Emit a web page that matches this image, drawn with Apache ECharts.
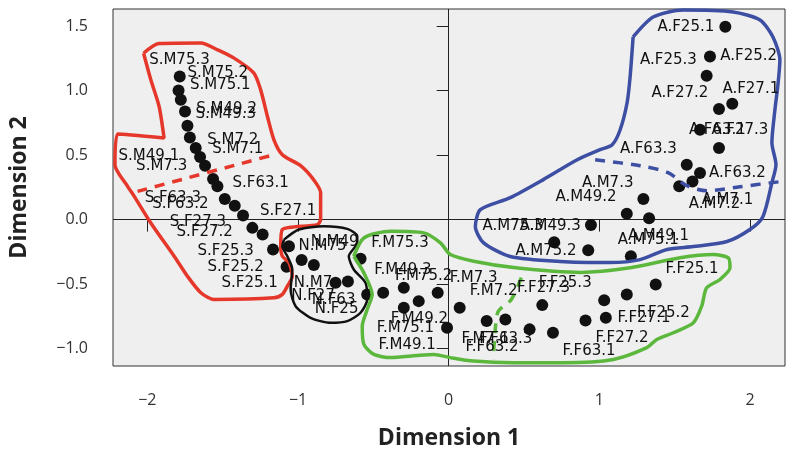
<!DOCTYPE html>
<html>
<head>
<meta charset="utf-8">
<script src="https://cdn.jsdelivr.net/npm/echarts@6/dist/echarts.min.js"></script>
<style>html,body{margin:0;padding:0;background:#fff}#c{width:800px;height:455px}</style>
</head>
<body>
<div id="c"></div>
<script>
// ---- tick values ----
const xTicks = [-2, -1, 0, 1, 2];
const yTicks = [-1, -0.5, 0, 0.5, 1, 1.5];

// ---- points (Dimension 1, Dimension 2) ----
const sPoints = [[-1.785,1.109],[-1.793,1.001],[-1.778,0.929],[-1.750,0.838],[-1.734,0.728],[-1.718,0.637],
  [-1.679,0.555],[-1.650,0.485],[-1.617,0.418],[-1.564,0.315],[-1.535,0.258],[-1.486,0.159],
  [-1.420,0.108],[-1.365,0.031],[-1.303,-0.064],[-1.235,-0.116],[-1.166,-0.232],[-1.076,-0.366]];
const nPoints = [[-1.060,-0.207],[-0.976,-0.313],[-0.895,-0.352],[-0.751,-0.490],[-0.669,-0.480],[-0.541,-0.580]];
const fPoints = [[-0.585,-0.304],[-0.435,-0.567],[-0.298,-0.529],[-0.199,-0.632],[-0.298,-0.683],[-0.073,-0.567],
  [-0.011,-0.838],[0.073,-0.683],[0.252,-0.787],[0.376,-0.774],[0.537,-0.851],[0.621,-0.663],
  [0.692,-0.877],[0.908,-0.782],[1.043,-0.761],[1.032,-0.625],[1.182,-0.580],[1.374,-0.503]];
const aPoints = [[1.836,1.496],[1.734,1.264],[1.712,1.115],[1.882,0.898],[1.794,0.857],[1.668,0.697],
  [1.794,0.555],[1.580,0.426],[1.668,0.361],[1.618,0.296],[1.530,0.258],[1.292,0.160],
  [1.182,0.046],[1.330,0.010],[0.944,-0.041],[0.700,-0.176],[0.926,-0.238],[1.209,-0.284]];

// ---- text labels (anchor = text centre) ----
const sLabels = [[-1.787,1.238,'S.M75.3'],[-1.533,1.135,'S.M75.2'],[-1.516,1.045,'S.M75.1'],
  [-1.474,0.857,'S.M49.2'],[-1.480,0.820,'S.M49.3'],[-1.433,0.619,'S.M7.2'],[-1.400,0.547,'S.M7.1'],
  [-1.990,0.495,'S.M49.1'],[-1.905,0.418,'S.M7.3'],[-1.248,0.284,'S.F63.1'],[-1.831,0.168,'S.F63.3'],
  [-1.781,0.124,'S.F63.2'],[-1.066,0.064,'S.F27.1'],[-1.665,-0.021,'S.F27.3'],[-1.619,-0.098,'S.F27.2'],
  [-1.480,-0.245,'S.F25.3'],[-1.414,-0.366,'S.F25.2'],[-1.321,-0.495,'S.F25.1']];
const nLabels = [[-0.757,-0.176,'N.M49'],[-0.837,-0.207,'N.M75'],[-0.900,-0.490,'N.M7'],
  [-0.900,-0.596,'N.F27'],[-0.764,-0.627,'N.F63'],[-0.744,-0.691,'N.F25']];
const fLabels = [[-0.323,-0.186,'F.M75.3'],[-0.304,-0.392,'F.M49.3'],[-0.166,-0.439,'F.M75.2'],
  [0.166,-0.457,'F.M7.3'],[0.298,-0.555,'F.M7.2'],[-0.194,-0.774,'F.M49.2'],[-0.287,-0.838,'F.M75.1'],
  [-0.276,-0.975,'F.M49.1'],[0.243,-0.929,'F.M7.1'],[0.379,-0.929,'F.F63.3'],[0.288,-0.985,'F.F63.2'],
  [0.773,-0.495,'F.F25.3'],[0.630,-0.529,'F.F27.3'],[1.615,-0.387,'F.F25.1'],[1.425,-0.722,'F.F25.2'],
  [1.296,-0.761,'F.F27.1'],[1.151,-0.916,'F.F27.2'],[0.932,-1.019,'F.F63.1']];
const aLabels = [[1.574,1.491,'A.F25.1'],[1.458,1.238,'A.F25.3'],[1.991,1.264,'A.F25.2'],
  [1.535,0.981,'A.F27.2'],[2.005,1.014,'A.F27.1'],[1.784,0.691,'A.F63.1'],[1.933,0.691,'A.F27.3'],
  [1.325,0.547,'A.F63.3'],[1.916,0.360,'A.F63.2'],[1.055,0.284,'A.M7.3'],[0.911,0.173,'A.M49.2'],
  [1.850,0.155,'A.M7.1'],[1.765,0.122,'A.M7.2'],[0.427,-0.052,'A.M75.3'],[0.674,-0.052,'A.M49.3'],
  [1.392,-0.129,'A.M49.1'],[1.325,-0.160,'A.M75.1'],[0.646,-0.245,'A.M75.2']];

// ---- hand-drawn group outlines ----
const redHull = [[-2.025,1.290],[-1.924,1.366],[-1.645,1.370],[-1.533,1.316],[-1.427,1.254],[-1.294,1.138],
  [-1.248,1.006],[-1.203,0.800],[-1.160,0.619],[-1.104,0.503],[-0.983,0.418],[-0.897,0.310],[-0.850,0.209],
  [-0.850,0.000],[-0.872,-0.039],[-1.104,-0.077],[-1.115,-0.207],[-1.104,-0.284],[-1.060,-0.335],
  [-1.038,-0.439],[-1.071,-0.516],[-1.104,-0.580],[-1.160,-0.606],[-1.557,-0.619],[-1.645,-0.567],
  [-1.734,-0.439],[-1.822,-0.284],[-1.977,-0.026],[-2.087,0.180],[-2.131,0.258],[-2.215,0.426],
  [-2.197,0.663],[-1.889,0.632],[-1.922,0.877],[-1.977,1.084],[-2.025,1.290]];
const blackHull = [[-1.093,-0.155],[-0.994,-0.077],[-0.828,-0.052],[-0.673,-0.072],[-0.607,-0.129],
  [-0.607,-0.180],[-0.663,-0.284],[-0.630,-0.387],[-0.552,-0.490],[-0.541,-0.619],[-0.585,-0.722],
  [-0.673,-0.787],[-0.784,-0.800],[-0.917,-0.761],[-1.016,-0.671],[-1.049,-0.542],[-1.038,-0.387],
  [-1.071,-0.284],[-1.104,-0.207],[-1.093,-0.155]];
const greenHull = [[-0.630,-0.284],[-0.563,-0.142],[-0.386,-0.091],[-0.166,-0.103],[-0.055,-0.180],
  [0.011,-0.271],[0.166,-0.323],[0.431,-0.372],[0.873,-0.410],[1.204,-0.374],[1.535,-0.296],
  [1.756,-0.271],[1.856,-0.296],[1.867,-0.374],[1.801,-0.464],[1.712,-0.529],[1.679,-0.671],
  [1.624,-0.800],[1.491,-0.877],[1.381,-0.929],[1.315,-0.993],[1.093,-1.084],[0.762,-1.109],
  [0.431,-1.109],[0.166,-1.097],[0.011,-1.070],[-0.099,-1.045],[-0.209,-1.053],[-0.386,-1.070],
  [-0.497,-1.045],[-0.563,-0.967],[-0.574,-0.826],[-0.541,-0.697],[-0.508,-0.580],[-0.563,-0.413],
  [-0.630,-0.284]];
const blueHull = [[1.224,1.416],[1.357,1.571],[1.555,1.625],[1.887,1.610],[2.066,1.548],[2.152,1.416],
  [2.198,1.238],[2.185,1.045],[2.165,0.851],[2.145,0.596],[2.172,0.426],[2.145,0.286],[2.085,0.023],
  [1.999,-0.077],[1.847,-0.170],[1.622,-0.209],[1.449,-0.232],[1.270,-0.310],[1.072,-0.333],
  [0.740,-0.325],[0.409,-0.286],[0.230,-0.178],[0.177,-0.054],[0.210,0.077],[0.409,0.170],
  [0.628,0.310],[0.853,0.464],[1.005,0.542],[1.085,0.580],[1.138,0.697],[1.184,0.906],[1.204,1.107],
  [1.224,1.416]];
const redDash = [[-2.065,0.219],[-1.170,0.500]];
const greenDash = [[0.482,-0.449],[0.416,-0.619],[0.329,-0.712],[0.309,-0.851],[0.296,-1.084]];
const blueDash = [[0.972,0.464],[1.270,0.418],[1.456,0.364],[1.581,0.263],[1.714,0.224],[1.933,0.255],[2.198,0.294]];

const RED = '#e5372a', BLUE = '#3d4fa2', GREEN = '#5cb83c', BLACK = '#111111';
const minus = v => (v < 0 ? '\u2212' + Math.abs(v) : String(v));

function hull(data, color, dashed, width) {
  return {
    type: 'line', data: data, showSymbol: false, symbol: 'none', smooth: dashed ? 0.3 : 0.25,
    lineStyle: { color: color, width: width || 3.5, type: dashed ? [10, 8] : 'solid', opacity: 1 },
    z: 4, silent: true, animation: false
  };
}
const allLabels = sLabels.concat(nLabels, fLabels, aLabels);

const chart = echarts.init(document.getElementById('c'), null, { renderer: 'canvas' });
chart.setOption({
  animation: false,
  backgroundColor: '#ffffff',
  grid: { left: 112, right: 15, top: 9, bottom: 88, show: true, backgroundColor: '#efeff0', borderColor: '#333', borderWidth: 1 },
  xAxis: {
    type: 'value', min: -2.228, max: 2.232,
    name: 'Dimension 1', nameLocation: 'middle', nameGap: 61,
    nameTextStyle: { fontFamily: 'Open Sans', fontWeight: 'bold', fontSize: 23, color: '#222' },
    axisLine: { show: false }, splitLine: { show: false },
    axisTick: { show: true, length: 12, lineStyle: { color: '#222' }, customValues: xTicks },
    axisLabel: { margin: 26, fontFamily: 'Open Sans', fontSize: 16, color: '#333', customValues: xTicks, formatter: v => minus(v) }
  },
  yAxis: {
    type: 'value', min: -1.135, max: 1.633,
    name: 'Dimension 2', nameLocation: 'middle', nameGap: 82,
    nameTextStyle: { fontFamily: 'Open Sans', fontWeight: 'bold', fontSize: 23, color: '#222' },
    axisLine: { show: false }, splitLine: { show: false },
    axisTick: { show: true, length: 12, lineStyle: { color: '#222' }, customValues: yTicks },
    axisLabel: { margin: 25, fontFamily: 'Open Sans', fontSize: 16, color: '#333', customValues: yTicks,
      formatter: v => (v < 0 ? '\u2212' + Math.abs(v).toFixed(1) : v.toFixed(1)) }
  },
  series: [
    {
      type: 'scatter', data: sPoints.concat(nPoints, fPoints, aPoints), symbolSize: 12,
      itemStyle: { color: BLACK, opacity: 1 }, z: 3, silent: true,
      markLine: { silent: true, symbol: 'none', label: { show: false },
        lineStyle: { color: '#222', width: 1, type: 'solid', opacity: 1 },
        data: [{ xAxis: 0 }, { yAxis: 0 }], z: 1 }
    },
    {
      type: 'scatter', data: allLabels, symbolSize: 0, itemStyle: { color: 'rgba(0,0,0,0)', opacity: 1 }, z: 5, silent: true,
      label: { show: true, position: 'inside', formatter: p => p.data[2], opacity: 1,
        fontFamily: 'DejaVu Sans', fontSize: 15, color: '#111', align: 'center', verticalAlign: 'middle' },
      labelLayout: { hideOverlap: false }
    },
    hull(redHull, RED, false), hull(redDash, RED, true),
    hull(blackHull, BLACK, false, 2.5),
    hull(greenHull, GREEN, false), hull(greenDash, GREEN, true),
    hull(blueHull, BLUE, false), hull(blueDash, BLUE, true)
  ]
});
</script>
</body>
</html>
